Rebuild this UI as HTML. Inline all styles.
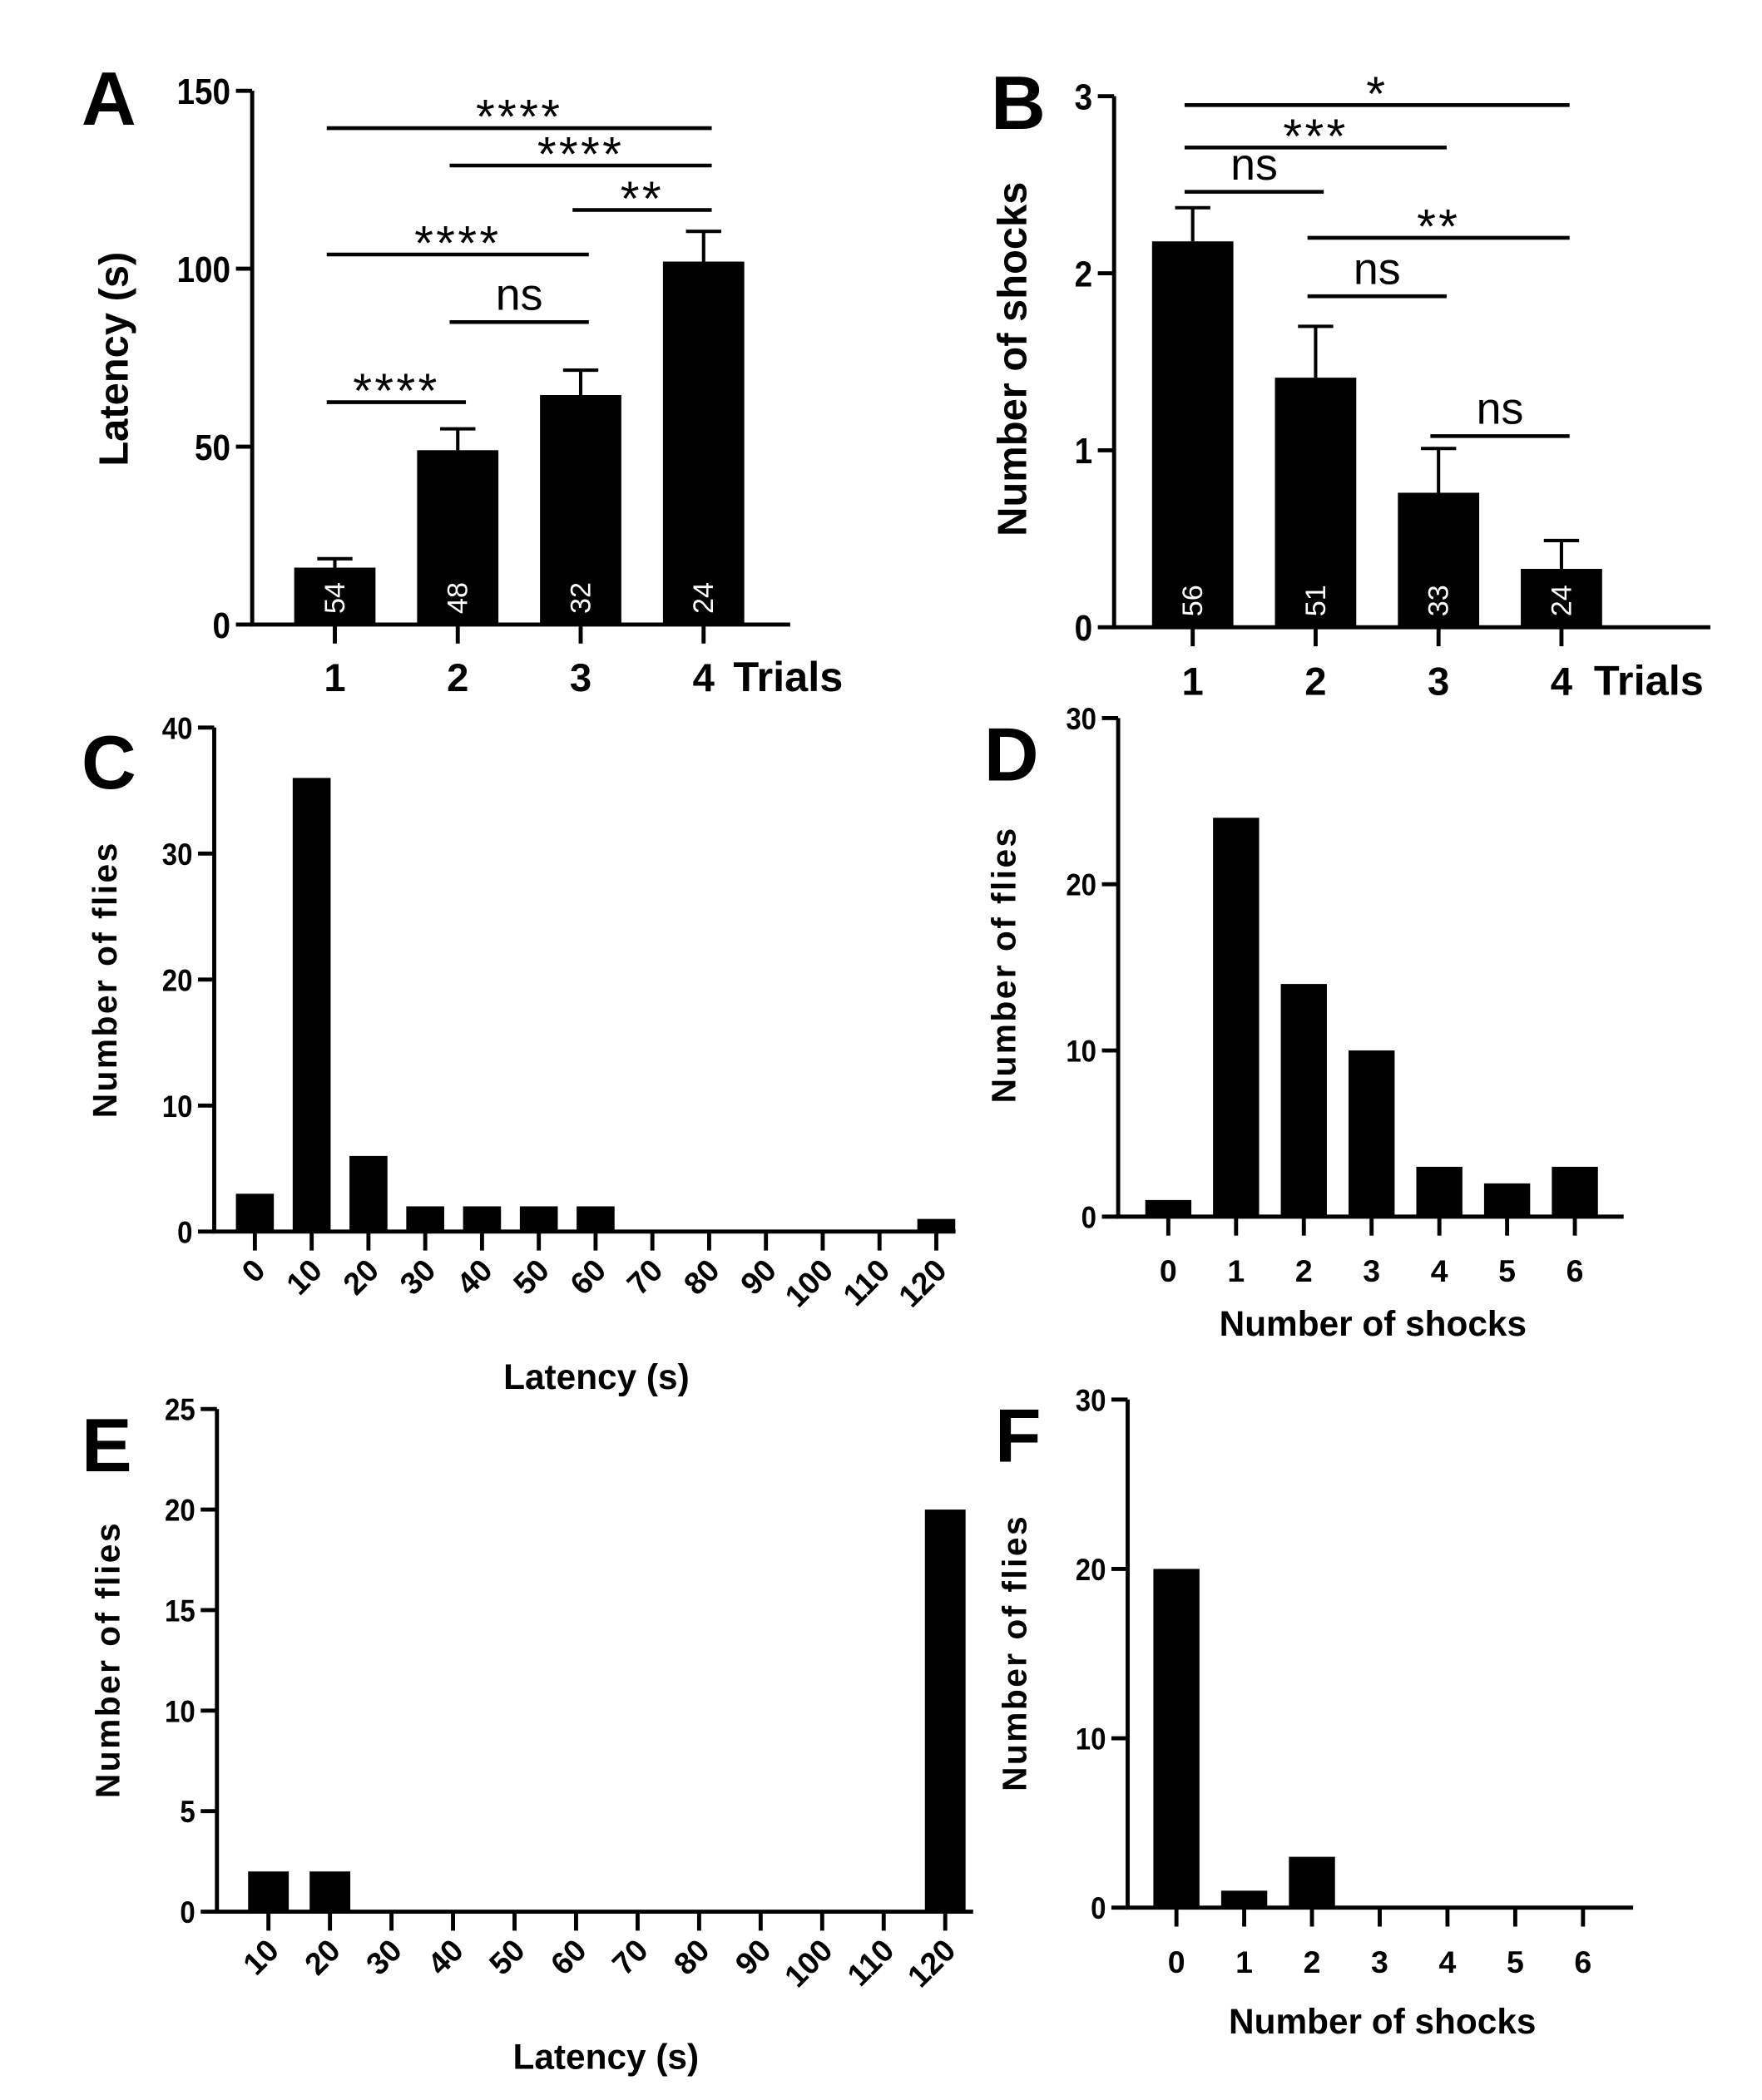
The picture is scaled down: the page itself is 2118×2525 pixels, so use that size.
<!DOCTYPE html>
<html><head><meta charset="utf-8"><style>
html,body{margin:0;padding:0;background:#fff;}
svg{display:block;font-family:"Liberation Sans",sans-serif;}
</style></head><body>
<svg id="fig" width="2118" height="2525" viewBox="0 0 1300 1550" xmlns="http://www.w3.org/2000/svg"></svg>
<script>
// Panel A data
const aCats = ["1","2","3","4"];
const aMeans = [16, 49, 64.5, 102];
const aErrTop = [18.5, 55, 71.5, 110.5];
const aN = ["54","48","32","24"];
const aTicks = [0, 50, 100, 150];
// Panel B data
const bCats = ["1","2","3","4"];
const bMeans = [2.18, 1.41, 0.76, 0.33];
const bErrTop = [2.37, 1.70, 1.01, 0.49];
const bN = ["56","51","33","24"];
const bTicks = [0, 1, 2, 3];
// Panel C data
const cCats = ["0","10","20","30","40","50","60","70","80","90","100","110","120"];
const cVals = [3, 36, 6, 2, 2, 2, 2, 0, 0, 0, 0, 0, 1];
const cTicks = [0, 10, 20, 30, 40];
// Panel D data
const dCats = ["0","1","2","3","4","5","6"];
const dVals = [1, 24, 14, 10, 3, 2, 3];
const dTicks = [0, 10, 20, 30];
// Panel E data
const eCats = ["10","20","30","40","50","60","70","80","90","100","110","120"];
const eVals = [2, 2, 0, 0, 0, 0, 0, 0, 0, 0, 0, 20];
const eTicks = [0, 5, 10, 15, 20, 25];
// Panel F data
const fCats = ["0","1","2","3","4","5","6"];
const fVals = [20, 1, 3, 0, 0, 0, 0];
const fTicks = [0, 10, 20, 30];
// Significance annotations (category index pairs)
const aSig = [[0,3,"****"],[1,3,"****"],[2,3,"**"],[0,2,"****"],[1,2,"ns"],[0,1,"****"]];
const aSigY = [139.5, 129, 116.5, 104, 85, 62.5];
const bSig = [[0,3,"*"],[0,2,"***"],[0,1,"ns"],[1,3,"**"],[1,2,"ns"],[2,3,"ns"]];
const bSigY = [2.95, 2.71, 2.46, 2.2, 1.87, 1.08];

const NS = "http://www.w3.org/2000/svg";
const svg = document.getElementById("fig");
function mk(tag, attrs, parent, text){
  const e = document.createElementNS(NS, tag);
  for (const k in attrs) e.setAttribute(k, attrs[k]);
  if (text !== undefined) e.textContent = text;
  (parent || svg).appendChild(e);
  return e;
}

function panel(o){
  const g = mk("g", {});
  
  
  const ymax = o.ticks[o.ticks.length-1];
  const y = v => o.y0 - (v / ymax) * (o.y0 - o.yTop);
  const x = i => o.x0c + i * o.step;
  o.vals.forEach((v, i) => {
    if (v <= 0) return;
    const r = mk("rect", {x: x(i) - o.bw/2, y: y(v), width: o.bw, height: o.y0 - y(v), fill: "#000"}, g);
    
    
  });
  if (o.err) o.err.forEach((v, i) => {
    const e = mk("path", {d: `M${x(i)},${y(o.vals[i])}V${y(v)}M${x(i)-13},${y(v)}H${x(i)+13}`, stroke: "#000", "stroke-width": 2.5, fill: "none"}, g);
    
    
  });
  if (o.nlab) o.nlab.forEach((t, i) => {
    const tx = mk("text", {x: 0, y: 0, transform: `translate(${x(i)+7},${o.y0-8}) rotate(-90)`, fill: "#fff", "font-size": 21}, g, t);
    
    
  });
  const ax = mk("path", {d: `M${o.x0},${o.yTop}V${o.y0}H${o.xEnd}`, stroke: "#000", "stroke-width": 3, fill: "none"}, g);
  
  
  o.ticks.forEach(t => {
    mk("line", {x1: o.x0 - 12, x2: o.x0, y1: y(t), y2: y(t), stroke: "#000", "stroke-width": 3}, g);
    const tl = mk("text", {x: o.x0 - 16, y: y(t) + o.yfs*0.36, "text-anchor": "end", "font-size": o.yfs, "font-weight": "bold", transform: `translate(${(o.x0-16)*0.12},0) scale(0.88,1)`}, g, String(t));
    
    
  });
  o.cats.forEach((c, i) => {
    mk("line", {x1: x(i), x2: x(i), y1: o.y0, y2: o.y0 + 14, stroke: "#000", "stroke-width": 3}, g);
    let tl;
    if (o.rot) {
      tl = mk("text", {x: 0, y: 0, transform: `translate(${x(i)+9},${o.y0+30}) rotate(-45)`, "text-anchor": "end", "font-size": 23, "font-weight": "bold"}, g, c);
    } else {
      tl = mk("text", {x: x(i), y: o.labY, "text-anchor": "middle", "font-size": o.xfs, "font-weight": "bold"}, g, c);
    }
    
    
  });
  if (o.sig) o.sig.forEach((s, k) => {
    const yy = y(o.sigY[k]);
    const x1 = x(s[0]) - 6, x2 = x(s[1]) + 6;
    const l = mk("line", {x1, x2, y1: yy, y2: yy, stroke: "#000", "stroke-width": 2.8}, g);
    
    
    const isNs = s[2] === "ns";
    const t = mk("text", {x: (x1+x2)/2, y: isNs ? yy - 9 : yy + 4, "text-anchor": "middle", "font-size": isNs ? 33 : 36, "letter-spacing": isNs ? 0 : 2}, g, s[2]);
    
    
  });
  const yt = mk("text", {x: 0, y: 0, transform: `translate(${o.ytX},${o.ytY}) rotate(-90)`, "text-anchor": "middle", "font-size": o.ytfs, "font-weight": "bold", "letter-spacing": o.ytls || 0}, g, o.ytitle);
  
  
  if (o.xtitle) {
    const xt = mk("text", {x: o.xtX, y: o.xtY, "text-anchor": o.xtAnchor || "middle", "font-size": o.xtfs, "font-weight": "bold"}, g, o.xtitle);
    
    
  }
  const lt = mk("text", {x: o.letX, y: o.letY, "font-size": 56, "font-weight": "bold"}, g, o.letter);
  
  
}

panel({name:"panel-a", letter:"A", letX:60, letY:92, cats:aCats, vals:aMeans, err:aErrTop, nlab:aN, ticks:aTicks,
  x0:186, yTop:67, y0:461, xEnd:583, x0c:247, step:90.7, bw:60, yfs:27, xfs:29, labY:510,
  sig:aSig, sigY:aSigY, ytitle:"Latency (s)", ytX:94, ytY:265, ytfs:30,
  xtitle:"Trials", xtX:541, xtY:510, xtAnchor:"start", xtfs:31});
panel({name:"panel-b", letter:"B", letX:731, letY:95, cats:bCats, vals:bMeans, err:bErrTop, nlab:bN, ticks:bTicks,
  x0:822, yTop:71, y0:463, xEnd:1262, x0c:880, step:90.7, bw:60, yfs:27, xfs:29, labY:513,
  sig:bSig, sigY:bSigY, ytitle:"Number of shocks", ytX:757, ytY:265, ytfs:30,
  xtitle:"Trials", xtX:1176, xtY:513, xtAnchor:"start", xtfs:31});
panel({name:"panel-c", letter:"C", letX:60, letY:582, cats:cCats, vals:cVals, ticks:cTicks,
  x0:158, yTop:537, y0:909, xEnd:705, x0c:188, step:41.9, bw:28, yfs:23, rot:true,
  ytitle:"Number of flies", ytX:86, ytY:723, ytfs:25, ytls:1.5,
  xtitle:"Latency (s)", xtX:440, xtY:1025, xtfs:26});
panel({name:"panel-d", letter:"D", letX:726, letY:576, cats:dCats, vals:dVals, ticks:dTicks,
  x0:825, yTop:530, y0:898, xEnd:1198, x0c:862, step:50, bw:34, yfs:23, xfs:23, labY:946,
  ytitle:"Number of flies", ytX:749, ytY:712, ytfs:25, ytls:1.5,
  xtitle:"Number of shocks", xtX:1013, xtY:986, xtfs:26});
panel({name:"panel-e", letter:"E", letX:60, letY:1086, cats:eCats, vals:eVals, ticks:eTicks,
  x0:160, yTop:1040, y0:1411, xEnd:718, x0c:198, step:45.4, bw:30, yfs:23, rot:true,
  ytitle:"Number of flies", ytX:88, ytY:1225, ytfs:25, ytls:1.5,
  xtitle:"Latency (s)", xtX:447, xtY:1527, xtfs:26});
panel({name:"panel-f", letter:"F", letX:734, letY:1079, cats:fCats, vals:fVals, ticks:fTicks,
  x0:832, yTop:1033, y0:1408, xEnd:1205, x0c:868, step:50, bw:34, yfs:23, xfs:23, labY:1456,
  ytitle:"Number of flies", ytX:757, ytY:1220, ytfs:25, ytls:1.5,
  xtitle:"Number of shocks", xtX:1020, xtY:1501, xtfs:26});
</script>
</body></html>
